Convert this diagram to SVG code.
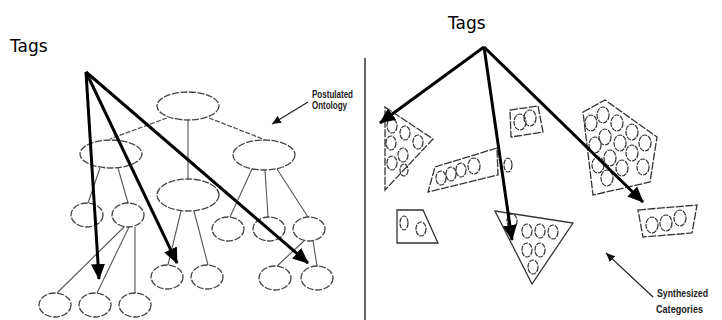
<svg xmlns="http://www.w3.org/2000/svg" width="722" height="320" viewBox="0 0 722 320">
<defs>
<marker id="big" markerUnits="userSpaceOnUse" markerWidth="16" markerHeight="14" refX="15" refY="7" orient="auto"><path d="M0,0 L16,7 L0,14 z" fill="#000"/></marker>
<marker id="small" markerUnits="userSpaceOnUse" markerWidth="9" markerHeight="8" refX="9" refY="4" orient="auto"><path d="M0,0 L9,4 L0,8 z" fill="#111"/></marker>
<style>
.bg{fill:#fff}
.n{fill:#fff;stroke:#444;stroke-width:1.3;stroke-dasharray:7 1.5}
.e{stroke:#555;stroke-width:1.1;fill:none}
.ed{stroke:#555;stroke-width:1.3;fill:none;stroke-dasharray:5 1.5}
.sh{fill:none;stroke:#333;stroke-width:1.3;stroke-dasharray:8 1.5}
.c{fill:none;stroke:#333;stroke-width:1.2;stroke-dasharray:5 1}
.tag{stroke:#000;stroke-width:3;fill:none}
.ann{stroke:#222;stroke-width:1.2;fill:none}
.t{font-family:"DejaVu Sans",sans-serif;font-size:17px;fill:#000}
.s{font-family:"Liberation Sans",sans-serif;font-size:10px;font-weight:bold;fill:#222}
</style>
</defs>
<rect class="bg" width="722" height="320"/>
<line x1="365" y1="58" x2="365" y2="320" stroke="#333" stroke-width="1.5"/>

<g id="connectors">
<line class="ed" x1="167" y1="118" x2="110" y2="139"/>
<line class="ed" x1="209" y1="118" x2="263" y2="139"/>
<line class="e" x1="188" y1="120" x2="188" y2="179"/>
<line class="e" x1="100" y1="168" x2="88" y2="203"/>
<line class="e" x1="118" y1="168" x2="128" y2="203"/>
<line class="e" x1="124" y1="227" x2="57" y2="293"/>
<line class="e" x1="129" y1="227" x2="97" y2="293"/>
<line class="e" x1="135" y1="227" x2="135" y2="293"/>
<line class="e" x1="181" y1="211" x2="168" y2="265"/>
<line class="e" x1="194" y1="211" x2="208" y2="265"/>
<line class="e" x1="252" y1="169" x2="230" y2="217"/>
<line class="e" x1="265" y1="170" x2="268" y2="217"/>
<line class="e" x1="277" y1="169" x2="308" y2="217"/>
<line class="e" x1="304" y1="241" x2="277" y2="266"/>
<line class="e" x1="313" y1="241" x2="317" y2="266"/>
<line class="ann" x1="308" y1="102" x2="272" y2="124" marker-end="url(#small)"/>
<line class="ann" x1="653" y1="297" x2="606" y2="253" marker-end="url(#small)"/>
</g>

<g id="root"><ellipse class="n" cx="188" cy="106" rx="31" ry="14"/></g>
<g id="left-child"><ellipse class="n" cx="111" cy="154" rx="31" ry="14"/></g>
<g id="mid-child"><ellipse class="n" cx="188" cy="195" rx="31" ry="16"/></g>
<g id="right-child"><ellipse class="n" cx="264" cy="155" rx="31" ry="15"/></g>
<g id="l1"><ellipse class="n" cx="87" cy="215" rx="16" ry="12"/></g>
<g id="l2"><ellipse class="n" cx="128" cy="215" rx="16" ry="12"/></g>
<g id="l3"><ellipse class="n" cx="55" cy="305" rx="16" ry="12"/></g>
<g id="l4"><ellipse class="n" cx="95" cy="305" rx="16" ry="12"/></g>
<g id="l5"><ellipse class="n" cx="135" cy="305" rx="16" ry="12"/></g>
<g id="m1"><ellipse class="n" cx="167" cy="277" rx="16" ry="12"/></g>
<g id="m2"><ellipse class="n" cx="207" cy="277" rx="16" ry="12"/></g>
<g id="r1"><ellipse class="n" cx="228" cy="229" rx="16" ry="12"/></g>
<g id="r2"><ellipse class="n" cx="269" cy="229" rx="16" ry="12"/></g>
<g id="r3"><ellipse class="n" cx="309" cy="229" rx="16" ry="12"/></g>
<g id="r4"><ellipse class="n" cx="275" cy="278" rx="16" ry="12"/></g>
<g id="r5"><ellipse class="n" cx="317" cy="278" rx="16" ry="12"/></g>

<g id="postulated-label">
<text class="s" x="312" y="98" textLength="41" lengthAdjust="spacingAndGlyphs">Postulated</text>
<text class="s" x="312" y="109" textLength="35" lengthAdjust="spacingAndGlyphs">Ontology</text>
</g>

<g id="cat-triangle-left">
<path class="sh" d="M385,107 L433,139 L385,190 Z"/>
<ellipse class="c" cx="392" cy="126" rx="5" ry="7"/>
<ellipse class="c" cx="405" cy="133" rx="5" ry="7"/>
<ellipse class="c" cx="418" cy="142" rx="5" ry="7"/>
<ellipse class="c" cx="391" cy="143" rx="5" ry="7"/>
<ellipse class="c" cx="403" cy="155" rx="5" ry="7"/>
<ellipse class="c" cx="392" cy="163" rx="5" ry="7"/>
<ellipse class="c" cx="404" cy="170" rx="4" ry="6"/>
</g>
<g id="cat-parallelogram">
<path class="sh" d="M435,167 L497,148 L498,175 L428,192 Z"/>
<ellipse class="c" cx="441" cy="178" rx="5" ry="7"/>
<ellipse class="c" cx="451" cy="174" rx="5" ry="7"/>
<ellipse class="c" cx="461" cy="170" rx="5" ry="7"/>
<ellipse class="c" cx="474" cy="166" rx="6" ry="8"/>
<ellipse class="c" cx="508" cy="165" rx="4" ry="7"/>
</g>
<g id="cat-small-rect">
<path class="sh" d="M510,110 L538,106 L543,132 L511,137 Z"/>
<ellipse class="c" cx="520" cy="122" rx="6" ry="8"/>
<ellipse class="c" cx="530" cy="118" rx="6" ry="8"/>
</g>
<g id="cat-pentagon">
<path class="sh" d="M583,112 L605,100 L657,137 L650,182 L593,195 Z"/>
<ellipse class="c" cx="591" cy="123" rx="6" ry="8"/>
<ellipse class="c" cx="603" cy="115" rx="6" ry="8"/>
<ellipse class="c" cx="617" cy="123" rx="6" ry="8"/>
<ellipse class="c" cx="632" cy="132" rx="6" ry="8"/>
<ellipse class="c" cx="645" cy="143" rx="6" ry="8"/>
<ellipse class="c" cx="595" cy="145" rx="6" ry="8"/>
<ellipse class="c" cx="605" cy="137" rx="6" ry="8"/>
<ellipse class="c" cx="620" cy="143" rx="6" ry="8"/>
<ellipse class="c" cx="632" cy="153" rx="6" ry="8"/>
<ellipse class="c" cx="643" cy="167" rx="6" ry="8"/>
<ellipse class="c" cx="598" cy="165" rx="6" ry="8"/>
<ellipse class="c" cx="610" cy="158" rx="6" ry="8"/>
<ellipse class="c" cx="622" cy="168" rx="6" ry="8"/>
<ellipse class="c" cx="607" cy="178" rx="6" ry="8"/>
</g>
<g id="cat-trapezoid-right">
<path class="sh" d="M638,210 L697,205 L692,233 L643,237 Z"/>
<ellipse class="c" cx="652" cy="225" rx="6" ry="8"/>
<ellipse class="c" cx="666" cy="223" rx="6" ry="8"/>
<ellipse class="c" cx="680" cy="218" rx="6" ry="8"/>
</g>
<g id="cat-trapezoid-left">
<path d="M397,210 L423,210 L438,243 L397,243 Z" fill="none" stroke="#333" stroke-width="1.3"/>
<ellipse class="c" cx="404" cy="223" rx="4" ry="7"/>
<ellipse class="c" cx="421" cy="229" rx="5" ry="7"/>
</g>
<g id="cat-triangle-bottom">
<path class="sh" d="M495,211 L573,223 L532,284 Z" style="stroke-dasharray:none"/>
<ellipse class="c" cx="512" cy="221" rx="5" ry="7"/>
<ellipse class="c" cx="527" cy="231" rx="5" ry="7"/>
<ellipse class="c" cx="540" cy="231" rx="5" ry="7"/>
<ellipse class="c" cx="553" cy="232" rx="5" ry="7"/>
<ellipse class="c" cx="527" cy="250" rx="5" ry="7"/>
<ellipse class="c" cx="540" cy="250" rx="5" ry="7"/>
<ellipse class="c" cx="533" cy="267" rx="5" ry="7"/>
</g>

<g id="synth-label">
<text class="s" x="657" y="297" font-size="11" textLength="51" lengthAdjust="spacingAndGlyphs">Synthesized</text>
<text class="s" x="656" y="313" font-size="11" textLength="47" lengthAdjust="spacingAndGlyphs">Categories</text>
</g>

<g id="tags-left">
<text class="t" x="10" y="52">Tags</text>
</g>
<g id="tags-right">
<text class="t" x="448" y="29">Tags</text>
</g>
<g id="tag-arrows">
<line class="tag" x1="86" y1="72" x2="99" y2="279" marker-end="url(#big)"/>
<line class="tag" x1="86" y1="72" x2="177" y2="263" marker-end="url(#big)"/>
<line class="tag" x1="86" y1="72" x2="308" y2="263" marker-end="url(#big)"/>
<line class="tag" x1="484" y1="47" x2="380" y2="123" marker-end="url(#big)"/>
<line class="tag" x1="484" y1="47" x2="512" y2="240" marker-end="url(#big)"/>
<line class="tag" x1="484" y1="47" x2="643" y2="202" marker-end="url(#big)"/>
</g>
</svg>
